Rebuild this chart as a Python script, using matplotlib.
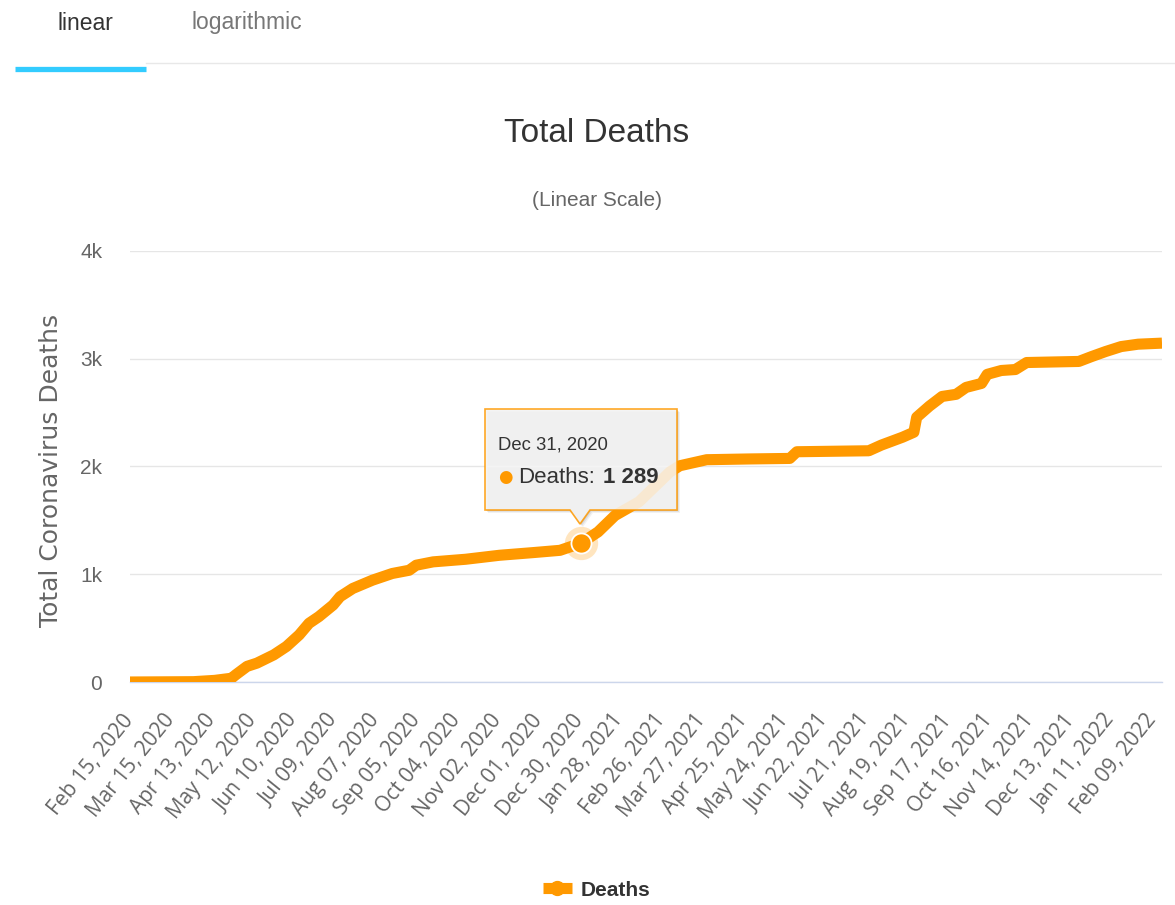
import matplotlib
matplotlib.use('Agg')
import matplotlib.pyplot as plt
import matplotlib.transforms as mtransforms
from matplotlib.patches import Polygon
from matplotlib.lines import Line2D
import pandas as pd

W, H = 1175, 905

# cumulative deaths
dates = ['2020-02-15', '2020-03-31', '2020-04-15', '2020-04-27', '2020-04-30',
         '2020-05-08', '2020-05-15', '2020-05-27', '2020-06-05', '2020-06-14',
         '2020-06-21', '2020-06-28', '2020-07-08', '2020-07-13', '2020-07-22',
         '2020-08-05', '2020-08-19', '2020-08-31', '2020-09-05', '2020-09-17',
         '2020-10-10', '2020-11-03', '2020-11-27', '2020-12-16', '2020-12-25',
         '2020-12-31', '2021-01-12', '2021-01-24', '2021-02-10', '2021-03-04',
         '2021-03-11', '2021-03-30', '2021-04-29', '2021-05-28', '2021-06-02',
         '2021-07-23', '2021-08-01', '2021-08-16', '2021-08-24', '2021-08-26',
         '2021-09-04', '2021-09-13', '2021-09-23', '2021-09-30', '2021-10-11',
         '2021-10-15', '2021-10-25', '2021-11-04', '2021-11-12', '2021-12-19',
         '2021-12-28', '2022-01-07', '2022-01-18', '2022-01-30', '2022-02-16']
deaths = [0, 3, 15, 35, 67,
          145, 175, 252, 330, 437,
          545, 607, 714, 792, 868,
          945, 1007, 1037, 1084, 1115,
          1139, 1176, 1201, 1222, 1262,
          1289, 1393, 1545, 1672, 1950,
          2007, 2063, 2070, 2075, 2137,
          2146, 2199, 2272, 2318, 2457,
          2560, 2650, 2670, 2734, 2771,
          2855, 2891, 2900, 2965, 2975,
          3020, 3067, 3113, 3135, 3145]

tick_start = '2020-02-15'
tick_step = '29D'
n_ticks = 26
y_ticks = [0, 1000, 2000, 3000, 4000]
y_ticklabels = ['0', '1k', '2k', '3k', '4k']

tip_date = '2020-12-31'
tip_value = 1289
tip_label = 'Dec 31, 2020'

orange = '#ff9900'
sans = ['Liberation Sans', 'DejaVu Sans']


def px(x, y):
    return x / W, 1 - y / H


fig = plt.figure(figsize=(W / 100, H / 100), dpi=100)
ax = fig.add_axes([130 / W, 1 - 682 / H, 1032 / W, 431 / H])
ax.patch.set_visible(False)

x = pd.to_datetime(dates)
ax.plot(x, deaths, color=orange, lw=8, solid_capstyle='butt', solid_joinstyle='round', zorder=3)
ax.set_xlim(x[0], x[-1])
ax.set_ylim(0, 4000)

ticks = pd.date_range(tick_start, periods=n_ticks, freq=tick_step)
ax.set_xticks(ticks)
ax.set_xticklabels([t.strftime('%b %d, %Y') for t in ticks], rotation=51, ha='right',
                   va='center', rotation_mode='anchor', fontsize=15, color='#666666',
                   family='Open Sans')
shift = mtransforms.ScaledTranslation(-8 / 100, 0, fig.dpi_scale_trans)
for lab in ax.get_xticklabels():
    lab.set_transform(lab.get_transform() + shift)
ax.tick_params(axis='x', length=0, pad=25)

ax.set_yticks(y_ticks)
ax.set_yticklabels(y_ticklabels, fontsize=15, color='#666666', family=sans)
ax.tick_params(axis='y', length=0, pad=20)
ax.yaxis.grid(True, color='#e6e6e6', lw=1)
ax.set_axisbelow(True)
for s in ['top', 'right', 'left']:
    ax.spines[s].set_visible(False)
ax.spines['bottom'].set_color('#ccd6eb')
ax.spines['bottom'].set_linewidth(1)

ax.set_ylabel('Total Coronavirus Deaths', fontsize=18, color='#666666', family='DejaVu Sans')
ax.yaxis.set_label_coords(-(130 - 63) / 1032, 0.49)

# hovered point
td = pd.Timestamp(tip_date)
ax.plot([td], [tip_value], 'o', ms=24, color=orange, alpha=0.25, mew=0, zorder=4, clip_on=False)
ax.plot([td], [tip_value], 'o', ms=14.5, mfc=orange, mec='white', mew=1.3, zorder=5, clip_on=False)

# tooltip box, shadow goes under the axes so it doesnt grey the box
box = [(485, 409), (677, 409), (677, 510), (590, 510), (580, 524), (570, 510), (485, 510)]
for off, a in [(3, 0.05), (2, 0.07), (1, 0.09)]:
    fig.add_artist(Polygon([px(bx + off, by + off) for bx, by in box], closed=True,
                           transform=fig.transFigure, fc='black', ec='none', alpha=a, zorder=-1))
fig.add_artist(Polygon([px(bx, by) for bx, by in box], closed=True, transform=fig.transFigure,
                       fc='#f7f7f7', ec=orange, lw=1.2, alpha=0.85, zorder=7))
fig.text(*px(498, 445), tip_label, fontsize=13.3, color='#333333', family=sans,
         va='center', ha='left', zorder=8)
fig.text(*px(505, 477), '\u25cf', fontsize=12, color=orange, family='DejaVu Sans',
         va='center', ha='center', zorder=8)
t1 = fig.text(*px(518, 477), 'Deaths:', fontsize=16, color='#333333', family=sans,
              va='center', ha='left', zorder=8)
r = fig.canvas.get_renderer()
x_end = t1.get_window_extent(r).x1 / W
fig.text(x_end + 8 / W, 1 - 477 / H, f'{tip_value:,}'.replace(',', ' '), fontsize=16,
         color='#333333', family=sans, fontweight='bold', va='center', ha='left', zorder=8)

# titles
fig.text(*px(597, 133), 'Total Deaths', fontsize=24, color='#333333', family=sans,
         ha='center', va='center')
fig.text(*px(597, 200), '(Linear Scale)', fontsize=15, color='#666666', family=sans,
         ha='center', va='center')

# tabs above the chart
fig.text(*px(85, 23), 'linear', fontsize=16.5, color='#333333', family=sans, ha='center', va='center')
fig.text(*px(247, 23), 'logarithmic', fontsize=16.5, color='#777777', family=sans, ha='center', va='center')
fig.add_artist(Line2D([146 / W, 1], [1 - 63 / H] * 2, color='#e8e8e8', lw=1))
fig.add_artist(Line2D([15 / W, 146 / W], [1 - 69 / H] * 2, color='#33ccff', lw=3.8,
                      solid_capstyle='butt'))

# legend
handle = Line2D([], [], color=orange, lw=8, marker='o', ms=10, solid_capstyle='butt')
ax.legend([handle], ['Deaths'], loc='center', bbox_to_anchor=px(597, 890),
          bbox_transform=fig.transFigure, frameon=False, handlelength=1.35, handletextpad=0.45,
          prop={'family': sans, 'weight': 'bold', 'size': 15}, labelcolor='#333333')

fig.savefig('out.png', dpi=100)
